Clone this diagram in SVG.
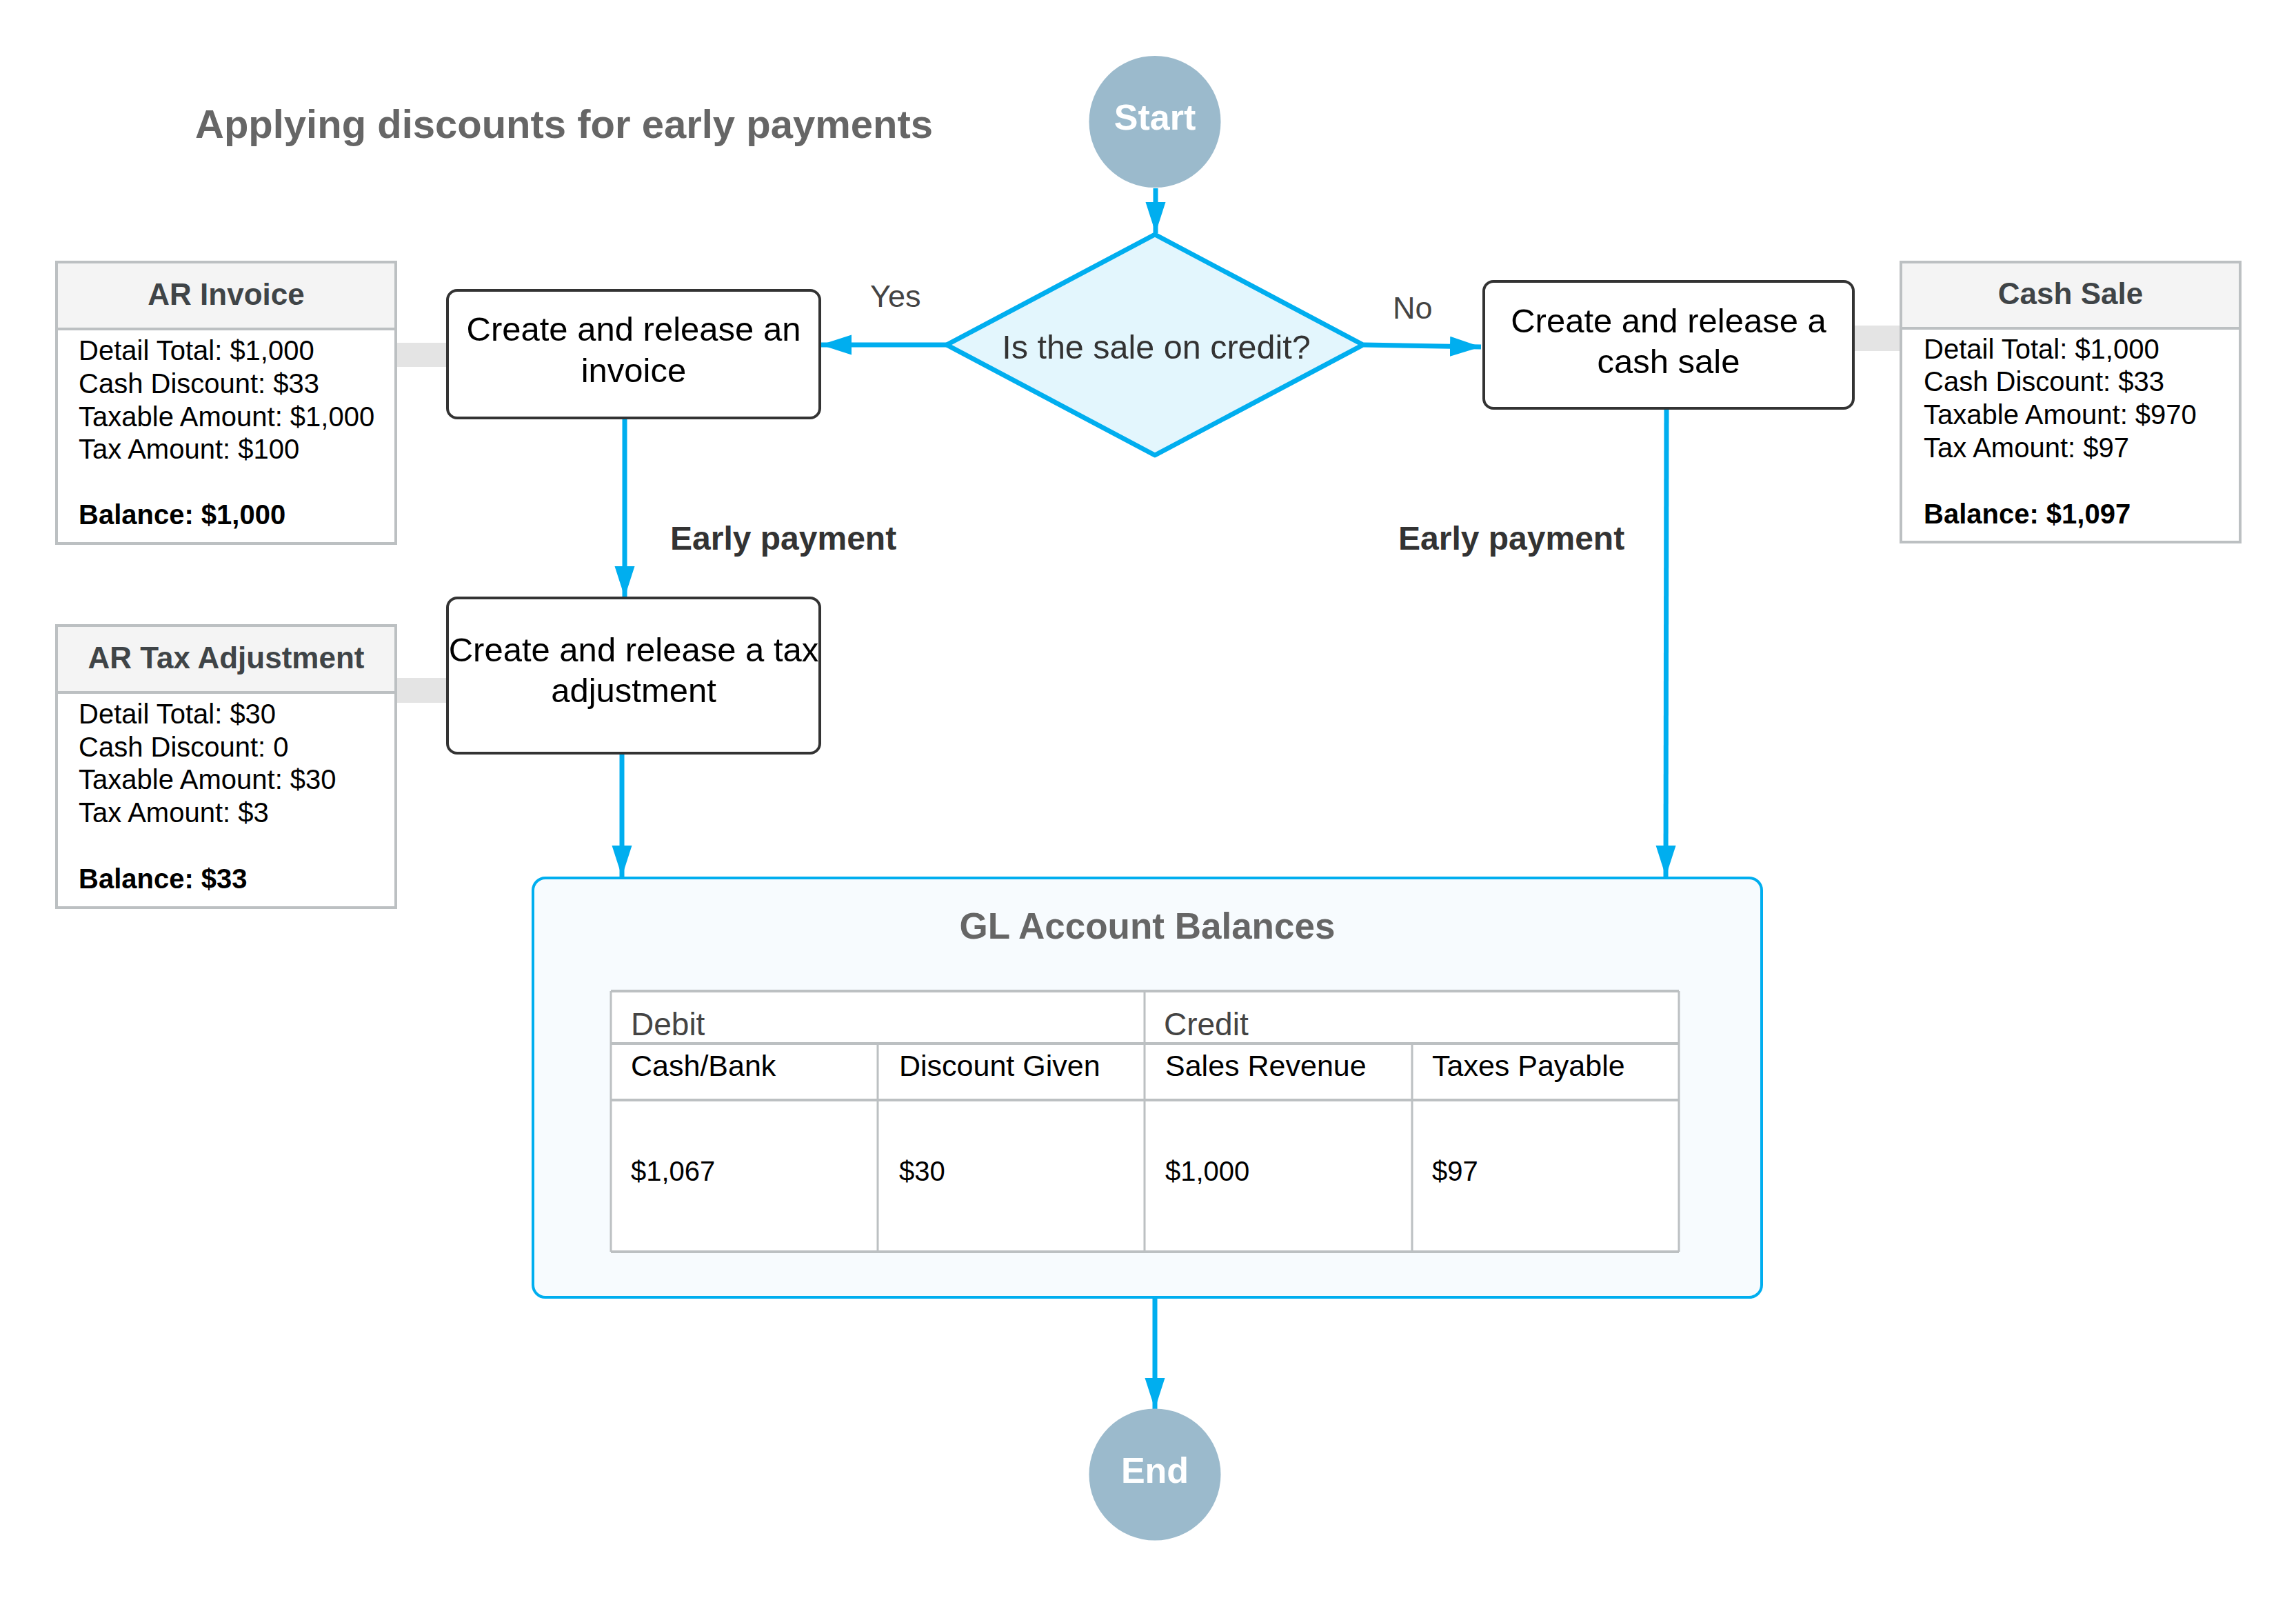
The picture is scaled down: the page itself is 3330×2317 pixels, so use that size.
<svg xmlns="http://www.w3.org/2000/svg" width="3330" height="2317" viewBox="0 0 3330 2317">
<style>
text{font-family:"Liberation Sans",Arial,sans-serif}
.conn{stroke:#00aeef;stroke-width:7;fill:none}
.bar{fill:#e4e4e4}
.box{fill:#ffffff;stroke:#333333;stroke-width:4}
.boxt{font-size:49px;fill:#000;text-anchor:middle}
.term{fill:#9bbacc}
.termt{font-size:52px;font-weight:bold;fill:#fff;text-anchor:middle}
.tbl{fill:#fff;stroke:#bcc0c2;stroke-width:4}
.hdr{fill:#f4f4f4;stroke:#bcc0c2;stroke-width:4}
.hdrt{font-size:44px;font-weight:bold;fill:#3f4447;text-anchor:middle}
.body{font-size:40px;fill:#000}
.bold{font-weight:bold}
.lbl{font-size:45px;fill:#444}
.ep{font-size:48px;font-weight:bold;fill:#333}
.grid{stroke:#bcc0c2;fill:none}
</style>
<defs>
<marker id="ah" markerUnits="userSpaceOnUse" markerWidth="46" markerHeight="30" refX="45" refY="14.5" orient="auto">
<path d="M0,0 L45,14.5 L0,29 Z" fill="#00aeef"/>
</marker>
</defs>
<rect width="3330" height="2317" fill="#ffffff"/>
<text x="283" y="200" font-size="58" font-weight="bold" fill="#666666">Applying discounts for early payments</text>

<g id="connectors">
<rect class="bar" x="574" y="497" width="75" height="35"/>
<rect class="bar" x="574" y="983" width="75" height="36"/>
<rect class="bar" x="2688" y="472" width="69" height="37"/>
<path class="conn" d="M1676,273 L1676,338" marker-end="url(#ah)"/>
<path class="conn" d="M1373,500 L1190,500" marker-end="url(#ah)"/>
<path class="conn" d="M1978,500 L2148,503" marker-end="url(#ah)"/>
<path class="conn" d="M906,608 L906,866" marker-end="url(#ah)"/>
<path class="conn" d="M902,1094 L902,1271" marker-end="url(#ah)"/>
<path class="conn" d="M2417,593 L2416,1271" marker-end="url(#ah)"/>
<path class="conn" d="M1675,1882 L1675,2043" marker-end="url(#ah)"/>
<text class="lbl" x="1262" y="445">Yes</text>
<text class="lbl" x="2020" y="462">No</text>
<text class="ep" x="972" y="797">Early payment</text>
<text class="ep" x="2028" y="797">Early payment</text>
</g>

<g id="start">
<circle class="term" cx="1675" cy="176.5" r="95.5"/>
<text class="termt" x="1675" y="188">Start</text>
</g>

<g id="decision">
<path d="M1675,340 L1977,500 L1675,660 L1373,500 Z" fill="#e3f6fd" stroke="#00aeef" stroke-width="7" stroke-linejoin="round"/>
<text x="1677" y="520" font-size="48.5" fill="#333" text-anchor="middle">Is the sale on credit?</text>
</g>

<g id="invoice">
<rect class="box" x="649" y="421" width="540" height="185" rx="14"/>
<text class="boxt" x="919" y="494">Create and release an</text>
<text class="boxt" x="919" y="554">invoice</text>
</g>

<g id="taxadj">
<rect class="box" x="649" y="867" width="540" height="225" rx="14"/>
<text class="boxt" x="919" y="959">Create and release a tax</text>
<text class="boxt" x="919" y="1018">adjustment</text>
</g>

<g id="cashsale">
<rect class="box" x="2152" y="408" width="536" height="184" rx="14"/>
<text class="boxt" x="2420" y="482">Create and release a</text>
<text class="boxt" x="2420" y="541">cash sale</text>
</g>

<g id="arinvoice">
<rect class="tbl" x="82" y="380" width="492" height="408"/>
<rect class="hdr" x="82" y="380" width="492" height="97"/>
<text class="hdrt" x="328" y="442">AR Invoice</text>
<text class="body" x="114" y="522">Detail Total: $1,000</text>
<text class="body" x="114" y="570">Cash Discount: $33</text>
<text class="body" x="114" y="618">Taxable Amount: $1,000</text>
<text class="body" x="114" y="665">Tax Amount: $100</text>
<text class="body bold" x="114" y="760">Balance: $1,000</text>
</g>

<g id="artaxadj">
<rect class="tbl" x="82" y="907" width="492" height="409"/>
<rect class="hdr" x="82" y="907" width="492" height="97"/>
<text class="hdrt" x="328" y="969">AR Tax Adjustment</text>
<text class="body" x="114" y="1049">Detail Total: $30</text>
<text class="body" x="114" y="1097">Cash Discount: 0</text>
<text class="body" x="114" y="1144">Taxable Amount: $30</text>
<text class="body" x="114" y="1192">Tax Amount: $3</text>
<text class="body bold" x="114" y="1288">Balance: $33</text>
</g>

<g id="cashsaletable">
<rect class="tbl" x="2757" y="380" width="492" height="406"/>
<rect class="hdr" x="2757" y="380" width="492" height="96"/>
<text class="hdrt" x="3003" y="441">Cash Sale</text>
<text class="body" x="2790" y="520">Detail Total: $1,000</text>
<text class="body" x="2790" y="567">Cash Discount: $33</text>
<text class="body" x="2790" y="615">Taxable Amount: $970</text>
<text class="body" x="2790" y="663">Tax Amount: $97</text>
<text class="body bold" x="2790" y="759">Balance: $1,097</text>
</g>

<g id="gl">
<rect x="773" y="1273" width="1782" height="608" rx="18" fill="#f7fbfe" stroke="#00aeef" stroke-width="4"/>
<text x="1664" y="1361" font-size="53" font-weight="bold" fill="#666" text-anchor="middle">GL Account Balances</text>
<rect x="886" y="1437" width="1549" height="378" fill="#fff"/>
<path class="grid" stroke-width="4" d="M886,1437 H2435 M886,1513 H2435 M886,1595 H2435 M886,1815 H2435"/>
<path class="grid" stroke-width="3" d="M886,1437 V1815 M2435,1437 V1815 M1660,1437 V1815 M1273,1513 V1815 M2048,1513 V1815"/>
<text x="915" y="1501" font-size="46" fill="#444">Debit</text>
<text x="1688" y="1501" font-size="46" fill="#444">Credit</text>
<text x="915" y="1560" font-size="43" fill="#000">Cash/Bank</text>
<text x="1304" y="1560" font-size="43" fill="#000">Discount Given</text>
<text x="1690" y="1560" font-size="43" fill="#000">Sales Revenue</text>
<text x="2077" y="1560" font-size="43" fill="#000">Taxes Payable</text>
<text x="915" y="1712" font-size="40" fill="#000">$1,067</text>
<text x="1304" y="1712" font-size="40" fill="#000">$30</text>
<text x="1690" y="1712" font-size="40" fill="#000">$1,000</text>
<text x="2077" y="1712" font-size="40" fill="#000">$97</text>
</g>

<g id="end">
<circle class="term" cx="1675" cy="2138" r="95.5"/>
<text class="termt" x="1675" y="2150">End</text>
</g>
</svg>
